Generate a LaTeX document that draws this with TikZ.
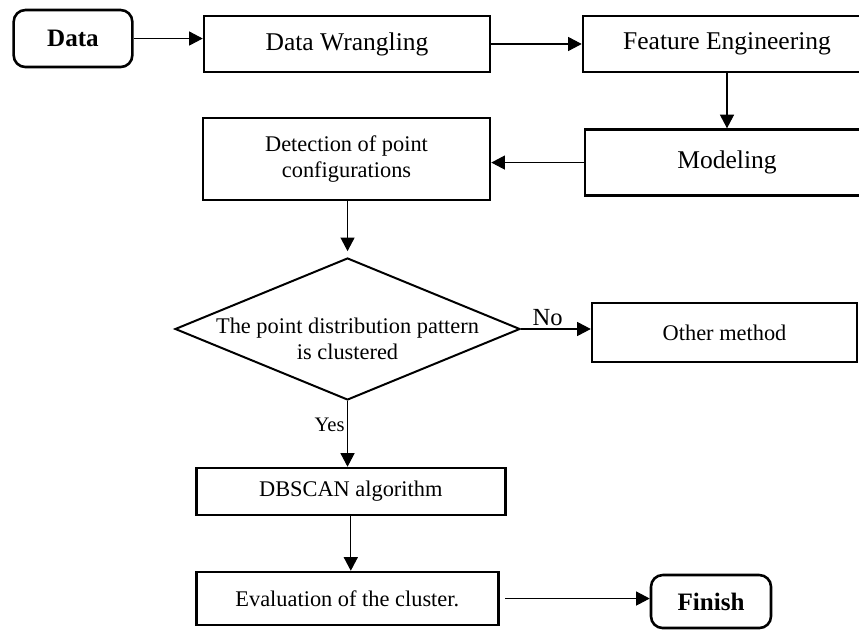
\documentclass[tikz,border=0pt]{standalone}
\usepackage{fontspec}
\setmainfont{Liberation Serif}
\usetikzlibrary{positioning, arrows.meta, shapes.geometric}

\begin{document}
\begin{tikzpicture}
  [basicbox/.style={draw,rectangle,line width=1.1pt,inner sep=0pt,minimum width=4.3cm,minimum height=0.84cm,font=\fontsize{10.9}{13}\selectfont},
   smallbox/.style={basicbox,align=center,font=\fontsize{9.55}{11}\selectfont},
   endbox/.style={basicbox,rounded corners=5pt,minimum width=1.78cm,minimum height=0.83cm,font=\fontsize{10.7}{13}\selectfont\bfseries},
   decisionbox/.style={draw,diamond,line width=0.85pt,inner sep=0pt,minimum width=5.175cm,minimum height=2.13cm},
   flow/.style={-{Triangle[length=5.8pt,width=6pt]},line width=0.45pt},
   flowlabel/.style={inner sep=1pt,font=\fontsize{9.8}{11}\selectfont}]
  \useasboundingbox (0,0) rectangle (12.885,-9.45);
  \node (data) at (1.095,-0.578) [endbox,minimum height=0.855cm] {Data};
  \node (wrangling) at (5.205,-0.66) [basicbox,minimum width=4.29cm] {Data Wrangling};
  \node (feature) at (10.905,-0.66) [basicbox,minimum width=4.32cm] {Feature Engineering};
  \node (modeling) [basicbox,minimum width=4.26cm,minimum height=0.99cm,below=0.825 of feature] {Modeling};
  \node (detection) at (5.198,-2.385) [smallbox,minimum width=4.305cm,minimum height=1.23cm] {Detection of point\\configurations};
  \node (decision) at (5.213,-4.935) [decisionbox,label={[align=center,yshift=-0.15cm,font=\fontsize{9.55}{10.8}\selectfont]center:The point distribution pattern\\is clustered}] {};
  \node (other) at (10.868,-4.988) [smallbox,minimum width=3.975cm,minimum height=0.885cm] {Other method};
  \node (dbscan) at (2.925,-7.373) [smallbox,anchor=west,minimum width=4.635cm,minimum height=0.705cm] {DBSCAN algorithm};
  \node (evaluation) at (2.925,-8.978) [smallbox,anchor=west,minimum width=4.53cm,minimum height=0.795cm] {Evaluation of the cluster.};
  \node (finish) at (10.665,-9.023) [endbox,minimum width=1.8cm,minimum height=0.795cm] {Finish};
  % connectors
  \draw [flow] (data.east) -- (data.east -| wrangling.west);
  \draw [flow] (wrangling.east) -- (feature.west);
  \draw [flow] (feature.south) -- (modeling.north);
  \draw [flow] (modeling.west) -- (modeling.west -| detection.east);
  \draw [flow,shorten >=2.5pt] (decision.north |- detection.south) -- (decision.north);
  \draw [flow] (decision.east) -- (decision.east -| other.west) node [flowlabel,above,pos=0.38,font=\fontsize{10.5}{12}\selectfont] {No};
  \draw [flow] (decision.south) -- (decision.south |- dbscan.north) node [flowlabel,left,pos=0.37,font=\fontsize{8.8}{10}\selectfont] {Yes};
  \draw [flow] (dbscan.south) -- (dbscan.south |- evaluation.north);
  \draw [flow,shorten <=2.5pt] (evaluation.east) -- (evaluation.east -| finish.west);
\end{tikzpicture}
\end{document}
